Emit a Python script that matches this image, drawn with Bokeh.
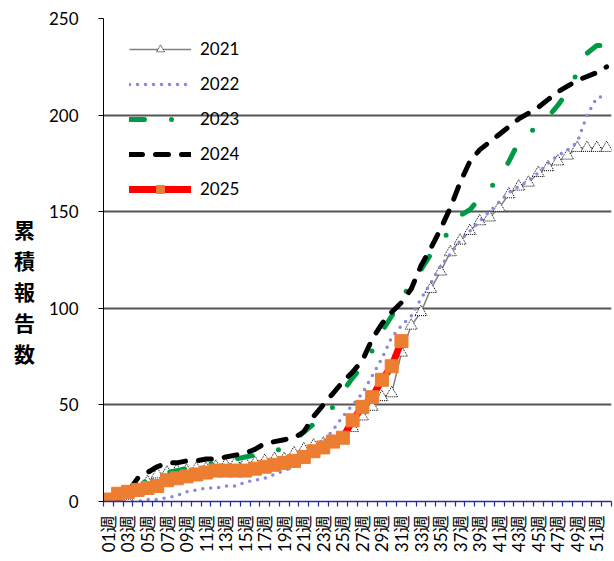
from bokeh.plotting import figure
from bokeh.models import FixedTicker, Range1d, Legend, LegendItem
from bokeh.embed import file_html
from bokeh.resources import INLINE

weeks = list(range(1, 53))
week_labels = [f"{w:02d}週" for w in weeks]
y_ticks = [0, 50, 100, 150, 200, 250]
y_title = ["累", "積", "報", "告", "数"]

s2021 = [0, 1, 3, 6, 10, 14, 15, 16, 16, 17, 17, 18, 19, 20, 20, 20, 21, 22, 22, 25,
         27, 29, 30, 31, 33, 38, 44, 49, 54, 56, 77, 91, 98, 110, 119, 129, 135, 140,
         145, 147, 152, 159, 163, 165, 170, 173, 176, 179, 183, 183, 183, 183]
s2022 = [0, 0, 0, 0, 1, 1, 2, 3, 5, 6, 7, 7, 8, 8, 10, 11, 12, 14, 16, 18,
         22, 26, 31, 37, 44, 50, 56, 65, 74, 85, 91, 96, 105, 113, 122, 128, 135, 140,
         145, 150, 155, 160, 163, 166, 170, 175, 179, 182, 186, 200, 209, 210]
s2023 = [0, 1, 4, 8, 11, 13, 15, 16, 17, 18, 19, 20, 21, 22, 23, 24, 25, 26, 28, 31,
         36, 40, 44, 49, 57, 64, 70, 78, 88, 96, 105, 113, 120, 128, 135, 140, 148, 151,
         157, 162, 167, 176, 186, 190, 195, 199, 205, 212, 222, 232, 236, 236]
s2024 = [0, 1, 5, 12, 15, 18, 20, 20, 21, 21, 22, 22, 23, 24, 25, 27, 30, 31, 32, 33,
         36, 44, 50, 56, 62, 67, 73, 84, 92, 98, 103, 110, 122, 131, 141, 152, 165, 176,
         182, 186, 190, 194, 198, 201, 204, 208, 212, 215, 218, 220, 222, 225]
s2025 = [1, 4, 5, 6, 7, 8, 11, 12, 13, 14, 15, 16, 16, 16, 16, 17, 18, 19, 20, 21,
         23, 26, 28, 31, 33, 42, 49, 54, 63, 70, 83]

FONT = "Lato, 'Noto Sans CJK JP', sans-serif"

p = figure(width=614, height=561, output_backend="svg", toolbar_location=None,
           x_range=Range1d(0.5, 52.5), y_range=Range1d(0, 250),
           min_border_left=103, min_border_right=3, min_border_top=18,
           min_border_bottom=60)
p.outline_line_color = None
p.background_fill_color = "white"

# x axis
p.xaxis.ticker = FixedTicker(ticks=weeks[::2],
                             minor_ticks=[w - 0.5 for w in weeks] + [52.5])
p.xaxis.major_label_overrides = {w: lab for w, lab in zip(weeks, week_labels)}
p.xaxis.major_label_orientation = 1.5707963
p.xaxis.major_tick_line_alpha = 0
p.xaxis.major_tick_out = 5
p.xaxis.major_tick_in = 0
p.xaxis.minor_tick_out = 5
p.xaxis.minor_tick_in = 0
p.xaxis.minor_tick_line_color = "#2b2b9b"
p.xaxis.minor_tick_line_width = 1.2
p.xaxis.axis_line_color = "#2b2b9b"
p.xaxis.axis_line_width = 1.5
p.xaxis.major_label_standoff = 9
p.xaxis.major_label_text_font = FONT
p.xaxis.major_label_text_font_size = "17px"
p.xaxis.major_label_text_color = "black"

# y axis
p.yaxis.ticker = FixedTicker(ticks=y_ticks)
p.yaxis.minor_tick_line_color = None
p.yaxis.major_tick_in = 0
p.yaxis.major_tick_out = 5
p.yaxis.major_tick_line_color = "black"
p.yaxis.axis_line_color = "black"
p.yaxis.major_label_standoff = 20
p.yaxis.major_label_text_font = FONT
p.yaxis.major_label_text_font_size = "17px"
p.yaxis.major_label_text_color = "black"
p.yaxis.axis_label = "\n\n" + "\n".join(y_title)
p.yaxis.axis_label_orientation = "horizontal"
p.yaxis.axis_label_text_font = "'Noto Sans CJK JP', sans-serif"
p.yaxis.axis_label_text_font_style = "bold"
p.yaxis.axis_label_text_font_size = "21px"
p.yaxis.axis_label_text_line_height = 1.03
p.yaxis.axis_label_text_color = "black"
p.yaxis.axis_label_standoff = 11

p.xgrid.visible = False
p.ygrid.ticker = FixedTicker(ticks=y_ticks[1:])
p.ygrid.grid_line_color = "#555555"
p.ygrid.grid_line_width = 2

# series
r21l = p.line(weeks, s2021, line_color="#808080", line_width=1.5)
r21m = p.scatter(weeks, s2021, marker="triangle", size=12, fill_color="white",
                 line_color="black", line_dash="1 1", line_width=1)
r22 = p.line(weeks, s2022, line_color="#8888dd", line_width=3.5,
             line_dash="0 8", line_cap="round")
r23 = p.line(weeks, s2023, line_color="#009a44", line_width=5,
             line_dash="15 27 0 27", line_cap="round", line_join="round")
r24 = p.line(weeks, s2024, line_color="black", line_width=5,
             line_dash="13 13", line_cap="round", line_join="round")
r25l = p.line(weeks[:len(s2025)], s2025, line_color="#ff0000", line_width=7,
              line_cap="round", line_join="round")
r25m = p.scatter(weeks[:len(s2025)], s2025, marker="square", size=13,
                 fill_color="#ed7d31", line_color="#ed7d31")

legend = Legend(items=[
    LegendItem(label="2021", renderers=[r21l, r21m]),
    LegendItem(label="2022", renderers=[r22]),
    LegendItem(label="2023", renderers=[r23]),
    LegendItem(label="2024", renderers=[r24]),
    LegendItem(label="2025", renderers=[r25l, r25m]),
], location=(26, 302))
legend.background_fill_alpha = 0
legend.border_line_color = None
legend.padding = 0
legend.margin = 0
legend.glyph_width = 62
legend.glyph_height = 20
legend.label_height = 20
legend.spacing = 14
legend.label_standoff = 9
legend.label_text_font = FONT
legend.label_text_font_size = "17px"
legend.label_text_color = "black"
p.add_layout(legend)

open("out.html", "w").write(file_html(p, INLINE))
